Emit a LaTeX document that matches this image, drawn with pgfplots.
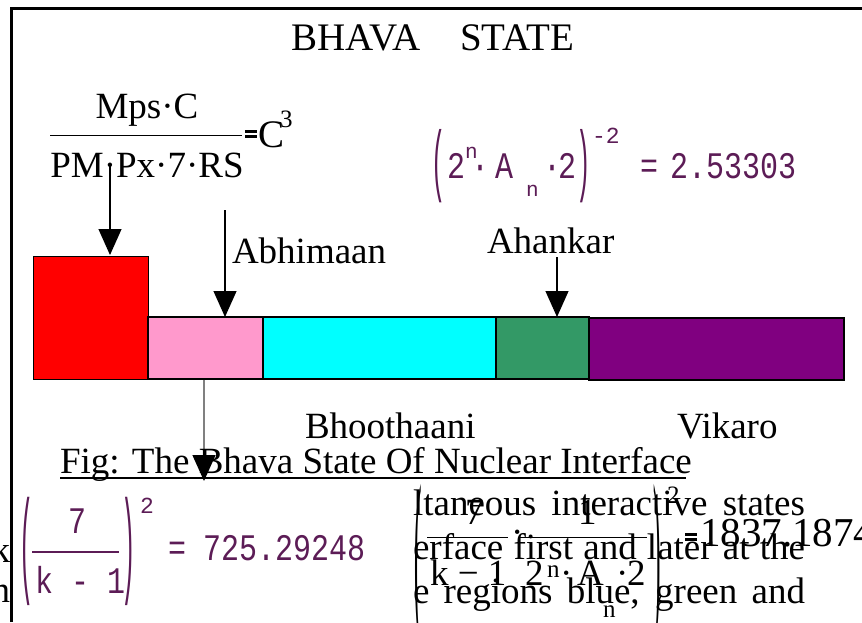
\documentclass[border=0pt]{standalone}
\usepackage{fontspec}
\setmainfont{Liberation Serif}
\newfontfamily\mcfont[FakeStretch=0.8]{Liberation Mono}
\newfontfamily\mcfontn{Liberation Mono}
\usepackage{pgfplots}
\pgfplotsset{compat=1.18}
\usetikzlibrary{arrows.meta}
\definecolor{mcpurple}{RGB}{92,28,86}
\definecolor{bpink}{RGB}{255,153,204}
\definecolor{bgreen}{RGB}{51,153,102}
\definecolor{bpurple}{RGB}{128,0,128}
\definecolor{bcyan}{RGB}{0,255,255}
\newcommand{\heq}{\vbox{\hrule width 6pt height 1.5pt\vskip 1pt\hrule width 6pt height 1.5pt}}
\tikzset{
  t/.style={inner sep=0pt, outer sep=0pt, anchor=base west, font=\fontsize{18.5}{20}\selectfont},
  ts/.style={inner sep=0pt, outer sep=0pt, anchor=base west, font=\fontsize{12.5}{14}\selectfont},
  mc/.style={inner sep=0pt, outer sep=0pt, anchor=base west, text=mcpurple, font=\mcfont\fontsize{18.75}{20}\selectfont},
  mcs/.style={inner sep=0pt, outer sep=0pt, anchor=base west, text=mcpurple, font=\mcfontn\fontsize{10.5}{12}\selectfont},
  mce/.style={inner sep=0pt, outer sep=0pt, anchor=base west, text=mcpurple, font=\mcfontn\fontsize{11.5}{12}\selectfont},
  arr/.style={line width=0.55pt, -{Triangle[width=11.5pt,length=13pt]}},
}
\begin{document}
\begin{tikzpicture}
\begin{axis}[name=ax, scale only axis, width=431pt, height=311pt,
  xmin=0, xmax=862, ymin=0, ymax=622, y dir=reverse, hide axis, clip=false]
% coloured blocks of the Bhava state
\addplot[fill=red, draw=black, line width=0.5pt] coordinates {(33,379) (33,256) (148,256) (148,379)} -- cycle;
\addplot[fill=bpink, draw=black, line width=0.6pt] coordinates {(148,379) (148,317) (263,317) (263,379)} -- cycle;
\addplot[fill=bcyan, draw=black, line width=0.6pt] coordinates {(263,379) (263,317) (496,317) (496,379)} -- cycle;
\addplot[fill=bgreen, draw=black, line width=0.6pt] coordinates {(496,379) (496,317) (589,317) (589,379)} -- cycle;
\addplot[fill=bpurple, draw=black, line width=0.6pt] coordinates {(589,380) (589,318) (844,318) (844,380)} -- cycle;
% arrows
\addplot[arr] coordinates {(110,163) (110,255)};
\addplot[arr] coordinates {(225,210) (225,317)};
\addplot[arr] coordinates {(557,257) (557,317)};
\addplot[line width=0.6pt, draw=gray, -{Triangle[width=11.5pt,length=13pt,black]}] coordinates {(204,380) (204,481)};
% frame
\addplot[line width=1.5pt, black] coordinates {(11,622) (11,8) (862,8)};
% title
\node[t, anchor=base, font=\fontsize{19.5}{20}\selectfont] at (433,50) {BHAVA\hspace{20pt}STATE};
% fraction Mps C / PM Px 7 RS = C^3
\node[t, anchor=base] at (147,118) {Mps·C};
\addplot[line width=0.5pt] coordinates {(50,135) (242,135)};
\node[t, anchor=base] at (147,177) {PM·Px·7·RS};
\node[inner sep=0pt, anchor=center] at (251,134) {\heq};
\node[t, font=\fontsize{19.5}{20}\selectfont] at (258,147) {C};
\node[ts] at (280,127) {3};
% purple formula top
\node[mc, anchor=center] at (439,166) {\scalebox{0.8}[2.1]{(}};
\node[mc] at (447,178) {2};
\node[mcs] at (465,158) {n};
\node[mc] at (471,178) {·};
\node[mc] at (495,178) {A};
\node[mcs] at (526,196) {n};
\node[mc] at (543,178) {·};
\node[mc] at (558,178) {2};
\node[mc, anchor=center] at (584,166) {\scalebox{0.8}[2.1]{)}};
\node[mce] at (592,143) {-2};
\node[mc] at (640,178) {=};
\node[mc] at (670,178) {2.53303};
% labels
\node[t] at (232,263) {Abhimaan};
\node[t] at (487,253) {Ahankar};
\node[t] at (305,438) {Bhoothaani};
\node[t] at (677,438) {Vikaro};
\node[t] at (60,473) {Fig: The Bhava State Of Nuclear Interface};
\addplot[line width=1pt] coordinates {(60,478) (686,478)};
% left edge fragments
\node[t, anchor=base east] at (10,562) {k};
\node[t, anchor=base east] at (10,602) {n};
% purple formula bottom left
\node[mc, anchor=center] at (27,551) {\scalebox{0.8}[3.1]{(}};
\node[mc] at (68,533) {7};
\addplot[line width=0.8pt, mcpurple] coordinates {(32,552) (119,552)};
\node[mc] at (35,593) {k - 1};
\node[mc, anchor=center] at (129,551) {\scalebox{0.8}[3.1]{)}};
\node[mce] at (140,513) {2};
\node[mc] at (168,560) {=};
\node[mc] at (203,560) {725.29248};
% running text bottom right
\node[t] at (413,515) {\makebox[196pt][s]{ltaneous interactive states}};
\node[t] at (413,559) {\makebox[196pt][s]{erface first and later at the}};
\node[t] at (413,603) {\makebox[196pt][s]{e regions blue, green and}};
% black formula bottom right
\node[t, anchor=center] at (418,568) {\scalebox{0.6}[5]{(}};
\node[t, anchor=center] at (657,568) {\scalebox{0.6}[5]{)}};
\node[t] at (465,524) {7};
\node[t] at (578,524) {1};
\addplot[line width=0.5pt] coordinates {(427,537) (508,537)};
\node[t] at (511,544) {·};
\addplot[line width=0.5pt] coordinates {(520,537) (647,537)};
\node[t] at (430,585) {k − 1};
\node[t] at (525,585) {2};
\node[ts] at (547,577) {n};
\node[t] at (560,585) {·};
\node[t] at (577,585) {A};
\node[ts] at (603,617) {n};
\node[t] at (616,585) {·};
\node[t] at (627,585) {2};
\node[ts] at (667,503) {2};
\node[inner sep=0pt, anchor=center] at (691,537) {\heq};
\node[t, font=\fontsize{20.5}{22}\selectfont] at (700,546) {1837.1874};
\end{axis}
\pgfresetboundingbox
\path (ax.south west) rectangle (ax.north east);
\end{tikzpicture}
\end{document}
